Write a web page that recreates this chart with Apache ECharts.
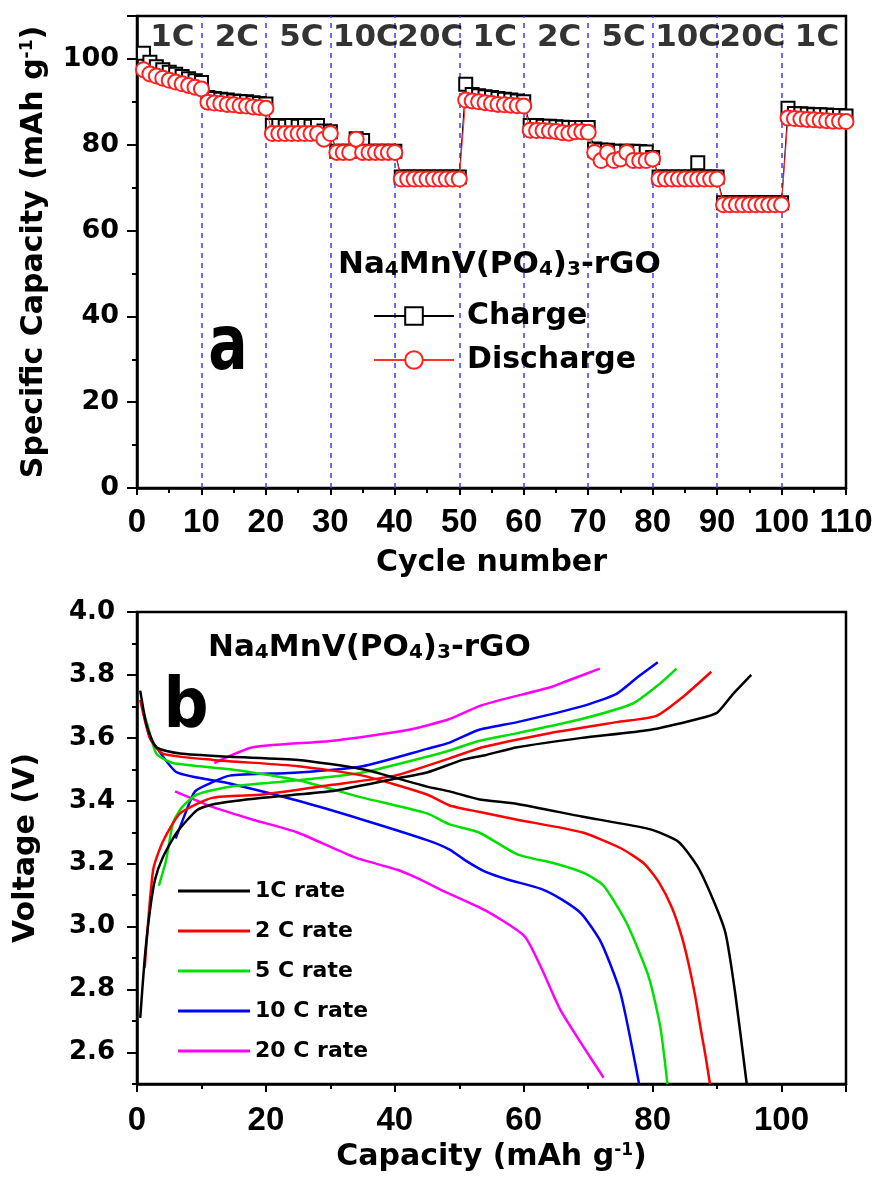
<!DOCTYPE html>
<html><head><meta charset="utf-8">
<script src="https://cdn.jsdelivr.net/npm/echarts@6/dist/echarts.min.js"></script>
<style>html,body{margin:0;padding:0;background:#fff}#c{width:877px;height:1195px}</style>
</head><body><div id="c"></div>
<script>
// ---------- Panel a: rate capability ----------
const cycleRateLabels = ['1C','2C','5C','10C','20C','1C','2C','5C','10C','20C','1C'];
const chargeCapacity = [
  101.3, 99.2, 98.2, 97.5, 96.9, 96.4, 95.9, 95.4, 94.9, 94.5,
  91.0, 90.8, 90.6, 90.4, 90.2, 90.1, 90.0, 89.8, 89.6, 89.5,
  84.5, 84.5, 84.3, 84.5, 84.3, 84.5, 84.3, 84.5, 83.2, 83.0,
  78.5, 78.5, 78.5, 81.4, 81.0, 78.5, 78.5, 78.5, 78.5, 78.5,
  72.5, 72.5, 72.5, 72.5, 72.5, 72.5, 72.5, 72.5, 72.5, 72.5,
  94.1, 91.7, 91.4, 91.2, 91.0, 90.8, 90.6, 90.4, 90.2, 90.0,
  84.5, 84.5, 84.3, 84.3, 84.2, 84.1, 84.0, 84.0, 84.0, 84.0,
  79.0, 78.8, 78.7, 78.5, 78.5, 78.5, 78.5, 78.4, 78.3, 77.0,
  72.5, 72.5, 72.5, 72.5, 72.5, 72.5, 75.8, 72.5, 72.5, 72.5,
  66.5, 66.5, 66.5, 66.5, 66.5, 66.5, 66.5, 66.5, 66.5, 66.5,
  88.5, 87.3, 87.2, 87.1, 87.0, 87.0, 86.9, 86.8, 86.8, 86.7
];
const dischargeCapacity = [
  97.5, 96.5, 96.0, 95.5, 95.0, 94.6, 94.2, 93.8, 93.4, 93.0,
  89.9, 89.7, 89.6, 89.4, 89.3, 89.1, 89.0, 88.8, 88.7, 88.5,
  82.6, 82.6, 82.6, 82.6, 82.6, 82.6, 82.6, 82.6, 81.3, 82.6,
  78.2, 78.2, 78.2, 81.3, 78.2, 78.2, 78.2, 78.2, 78.2, 78.2,
  72.0, 72.0, 72.0, 72.0, 72.0, 72.0, 72.0, 72.0, 72.0, 72.0,
  90.4, 90.2, 90.0, 89.8, 89.6, 89.4, 89.3, 89.2, 89.1, 89.0,
  83.4, 83.3, 83.3, 83.2, 83.1, 82.8, 82.7, 83.0, 83.0, 82.9,
  78.2, 76.3, 78.2, 76.3, 76.7, 78.2, 76.3, 76.3, 76.3, 76.7,
  72.0, 72.0, 72.0, 72.0, 72.0, 72.0, 72.0, 72.0, 72.0, 72.0,
  66.0, 66.0, 66.0, 66.0, 66.0, 66.0, 66.0, 66.0, 66.0, 66.0,
  86.2, 86.1, 86.0, 85.9, 85.8, 85.7, 85.6, 85.5, 85.5, 85.4
];
const cyclesPerRate = 10;

// ---------- Panel b: voltage profiles ----------
const rateNames = ['1C rate', '2 C rate', '5 C rate', '10 C rate', '20 C rate'];
const rateColors = ['#000000', '#ff0000', '#00e000', '#0000ff', '#ff00ff'];
const chargeCurve1C = [[0.5,2.71],[1.2,2.90],[2,3.05],[2.8,3.15],[4,3.22],[6.2,3.30],[9.3,3.37],[12,3.39],[19.5,3.41],[30,3.43],[40,3.47],[45,3.49],[50.5,3.53],[54,3.545],[59,3.57],[69,3.60],[79.5,3.625],[87,3.66],[90,3.68],[92.5,3.74],[95.3,3.80]];
const chargeCurve2C = [[1.2,2.87],[2.5,3.18],[4,3.27],[6.7,3.36],[11.8,3.41],[19.5,3.42],[30,3.45],[40,3.48],[48.5,3.535],[53.6,3.57],[64,3.615],[74.4,3.65],[80.6,3.67],[84.7,3.73],[89.1,3.81]];
const chargeCurve5C = [[3.4,3.13],[4.5,3.21],[5.6,3.33],[7,3.38],[9.3,3.42],[14.4,3.445],[25,3.465],[35,3.49],[45,3.54],[48.5,3.56],[53,3.59],[59,3.615],[69,3.66],[77,3.71],[81,3.77],[83.7,3.82]];
const chargeCurve10C = [[6,3.28],[7.5,3.36],[9,3.43],[11.8,3.46],[14.4,3.48],[25,3.49],[35,3.51],[45,3.565],[48.5,3.585],[53,3.625],[59,3.65],[69,3.70],[74.4,3.74],[77.5,3.79],[80.8,3.84]];
const chargeCurve20C = [[12,3.52],[18,3.57],[30,3.59],[42,3.625],[48.5,3.66],[53,3.70],[56.3,3.72],[64,3.76],[66.6,3.78],[71.8,3.82]];
const dischargeCurve1C = [[0.5,3.75],[1.5,3.64],[3,3.57],[6.7,3.55],[14.4,3.54],[25,3.53],[35,3.50],[45,3.445],[48.5,3.43],[53,3.405],[59,3.39],[69,3.35],[79.5,3.31],[84,3.27],[87,3.19],[89.5,3.08],[91.3,2.98],[92.8,2.79],[94.6,2.50]];
const dischargeCurve2C = [[0.5,3.72],[2,3.60],[4,3.55],[11.8,3.53],[25,3.51],[35,3.48],[45,3.42],[48.5,3.385],[53,3.365],[59,3.34],[69,3.30],[75,3.25],[78.7,3.20],[81,3.14],[83,3.06],[84.5,2.97],[85.6,2.88],[86.6,2.78],[87.5,2.67],[88.2,2.59],[88.9,2.50]];
const dischargeCurve5C = [[1,3.68],[1.5,3.65],[3,3.55],[5.6,3.52],[14.4,3.50],[25,3.465],[35,3.41],[45,3.36],[48.5,3.325],[53,3.30],[59,3.23],[65,3.20],[69.4,3.17],[72.4,3.13],[76,3.01],[79.4,2.84],[81.2,2.68],[82.3,2.50]];
const dischargeCurve10C = [[1,3.68],[2,3.60],[3,3.57],[6.2,3.49],[14.4,3.455],[25,3.40],[35,3.34],[45,3.275],[48.5,3.245],[51,3.21],[54,3.175],[57.5,3.15],[62.7,3.12],[66,3.085],[69,3.04],[72,2.95],[75,2.79],[77.9,2.50]];
const dischargeCurve20C = [[5.9,3.43],[11.8,3.38],[18,3.34],[24.8,3.30],[33.8,3.22],[40.5,3.18],[43.4,3.155],[47.9,3.11],[54.2,3.05],[60.1,2.97],[62.7,2.87],[65.7,2.735],[72.4,2.52]];
const chargeCurves = [chargeCurve1C, chargeCurve2C, chargeCurve5C, chargeCurve10C, chargeCurve20C];
const dischargeCurves = [dischargeCurve1C, dischargeCurve2C, dischargeCurve5C, dischargeCurve10C, dischargeCurve20C];

// ---------- chart ----------
const FF = 'DejaVu Sans';
const FA = 'Liberation Sans';
const chart = echarts.init(document.getElementById('c'), null, {renderer: 'canvas'});

const toPairs = arr => arr.map((v, i) => [i + 1, v]);
const boundaries = cycleRateLabels.slice(1).map((_, i) => (i + 1) * cyclesPerRate);
const rateLabelData = cycleRateLabels.map((t, i) => [i * cyclesPerRate + cyclesPerRate / 2 + 0.5, 104.8, t]);

const axisLineStyle = {show: true, lineStyle: {color: '#000', width: 2.5}};
const supRich = {sup: {fontSize: 17, fontWeight: 'bold', fontFamily: FF, color: '#000', verticalAlign: 'top'}};
const nameStyle = {fontFamily: FF, fontSize: 30, fontWeight: 'bold', color: '#000', rich: supRich};

// voltage axis geometry (panel b)
const vMin = 2.5, vMax = 4.0, vLabelMin = 2.6;
const gridB = {left: 137, top: 612, width: 709, height: 472};

const series = [
  {
    name: 'Charge', type: 'line', xAxisIndex: 0, yAxisIndex: 0,
    data: toPairs(chargeCapacity), symbol: 'rect', symbolSize: 13,
    itemStyle: {color: '#ffffff', borderColor: '#000000', borderWidth: 2},
    lineStyle: {color: '#000000', width: 1},
    z: 3,
    markLine: {
      silent: true, symbol: ['none', 'none'], label: {show: false},
      lineStyle: {color: '#3b3bff', type: [5, 5], width: 1.5},
      data: boundaries.map(b => ({xAxis: b})), z: 1
    }
  },
  {
    name: 'Discharge', type: 'line', xAxisIndex: 0, yAxisIndex: 0,
    data: toPairs(dischargeCapacity), symbol: 'circle', symbolSize: 15,
    itemStyle: {color: '#ffffff', borderColor: '#ff2020', borderWidth: 2},
    lineStyle: {color: '#ff3030', width: 1},
    z: 4
  },
  {
    name: 'rateLabels', type: 'scatter', xAxisIndex: 0, yAxisIndex: 0,
    data: rateLabelData, symbolSize: 0, silent: true,
    label: {show: true, position: 'inside', formatter: p => p.data[2],
      fontFamily: FF, fontSize: 31, fontWeight: 'bold', color: '#000'},
    z: 5
  }
];
rateNames.forEach((n, i) => {
  [chargeCurves[i], dischargeCurves[i]].forEach(d => {
    series.push({
      name: n, type: 'line', xAxisIndex: 1, yAxisIndex: 1, data: d,
      symbol: 'none', smooth: 0.2, lineStyle: {color: rateColors[i], width: 2.5},
      itemStyle: {color: rateColors[i]}, z: 10 - i
    });
  });
});

const tickStyle = {color: '#000', width: 2};
const option = {
  animation: false,
  backgroundColor: '#fff',
  grid: [
    {left: 137, top: 16, width: 709, height: 472, show: true, borderColor: '#000', borderWidth: 2.5, backgroundColor: 'transparent'},
    Object.assign({show: true, borderColor: '#000', borderWidth: 2.5, backgroundColor: 'transparent'}, gridB),
    // helper grid covering vLabelMin..vMax of panel b, only for the labelled major ticks
    {left: gridB.left, top: gridB.top, width: gridB.width,
     height: gridB.height * (vMax - vLabelMin) / (vMax - vMin), show: false}
  ],
  xAxis: [
    {
      gridIndex: 0, type: 'value', min: 0, max: 110, interval: 10,
      name: 'Cycle number', nameLocation: 'middle', nameGap: 60, nameTextStyle: nameStyle,
      axisLine: axisLineStyle,
      axisTick: {show: true, length: 7, lineStyle: tickStyle},
      minorTick: {show: true, splitNumber: 2, length: 5, lineStyle: tickStyle},
      axisLabel: {fontFamily: FA, fontSize: 33, fontWeight: 'bold', color: '#000', margin: 18},
      splitLine: {show: false}
    },
    {
      gridIndex: 1, type: 'value', min: 0, max: 110, interval: 20,
      name: 'Capacity (mAh g{sup|-1})', nameLocation: 'middle', nameGap: 58, nameTextStyle: nameStyle,
      axisLine: axisLineStyle,
      axisTick: {show: true, length: 8, lineStyle: tickStyle},
      minorTick: {show: true, splitNumber: 2, length: 5, lineStyle: tickStyle},
      axisLabel: {fontFamily: FA, fontSize: 33, fontWeight: 'bold', color: '#000', margin: 20, showMaxLabel: false},
      splitLine: {show: false}
    },
    {gridIndex: 2, type: 'value', min: 0, max: 110, show: false}
  ],
  yAxis: [
    {
      gridIndex: 0, type: 'value', min: 0, max: 110, interval: 20,
      name: 'Specific Capacity (mAh g{sup|-1})', nameLocation: 'middle', nameGap: 88, nameTextStyle: nameStyle,
      axisLine: axisLineStyle,
      axisTick: {show: true, length: 10, lineStyle: tickStyle},
      minorTick: {show: true, splitNumber: 2, length: 5, lineStyle: tickStyle},
      axisLabel: {fontFamily: FF, fontSize: 27, fontWeight: 'bold', color: '#000', margin: 18, showMaxLabel: false},
      splitLine: {show: false}
    },
    {
      gridIndex: 1, type: 'value', min: vMin, max: vMax, interval: 0.1,
      name: 'Voltage (V)', nameLocation: 'middle', nameGap: 96, nameTextStyle: nameStyle,
      axisLine: axisLineStyle,
      axisTick: {show: true, length: 5, lineStyle: tickStyle},
      axisLabel: {show: false},
      splitLine: {show: false}
    },
    {
      gridIndex: 2, type: 'value', min: vLabelMin, max: vMax, interval: 0.2,
      axisLine: {show: false},
      axisTick: {show: true, length: 10, lineStyle: tickStyle},
      axisLabel: {fontFamily: FF, fontSize: 26, fontWeight: 'bold', color: '#000', margin: 22,
        formatter: v => v.toFixed(1)},
      splitLine: {show: false}
    }
  ],
  legend: [
    {
      data: ['Charge', 'Discharge'], orient: 'vertical', left: 368, top: 296,
      itemWidth: 80, itemHeight: 22, itemGap: 14,
      textStyle: {fontFamily: FF, fontSize: 30, fontWeight: 'bold', color: '#000', padding: [0, 0, 0, 8]}
    },
    {
      data: rateNames, orient: 'vertical', left: 173, top: 875, icon: 'rect',
      itemWidth: 72, itemHeight: 3, itemGap: 18,
      textStyle: {fontFamily: FF, fontSize: 22, fontWeight: 'bold', color: '#000'}
    }
  ],
  graphic: [
    {type: 'text', x: 338, y: 249, z: 20, style: {
      text: 'Na{sub|4}MnV(PO{sub|4}){sub|3}-rGO', fontFamily: FF, fontSize: 31, fontWeight: 'bold', fill: '#000',
      rich: {sub: {fontFamily: FF, fontSize: 20, fontWeight: 'bold', fill: '#000', verticalAlign: 'bottom'}}}},
    {type: 'text', x: 208, y: 632, z: 20, style: {
      text: 'Na{sub|4}MnV(PO{sub|4}){sub|3}-rGO', fontFamily: FF, fontSize: 31, fontWeight: 'bold', fill: '#000',
      rich: {sub: {fontFamily: FF, fontSize: 20, fontWeight: 'bold', fill: '#000', verticalAlign: 'bottom'}}}},
    {type: 'text', x: 228, y: 349, scaleX: 0.77, z: 20, style: {
      text: 'a', fontFamily: FF, fontSize: 76, fontWeight: 'bold', fill: '#000', align: 'center', verticalAlign: 'middle'}},
    {type: 'text', x: 186, y: 709, scaleX: 0.9, z: 20, style: {
      text: 'b', fontFamily: FF, fontSize: 70, fontWeight: 'bold', fill: '#000', align: 'center', verticalAlign: 'middle'}}
  ],
  series: series
};
chart.setOption(option);
</script>
</body></html>
